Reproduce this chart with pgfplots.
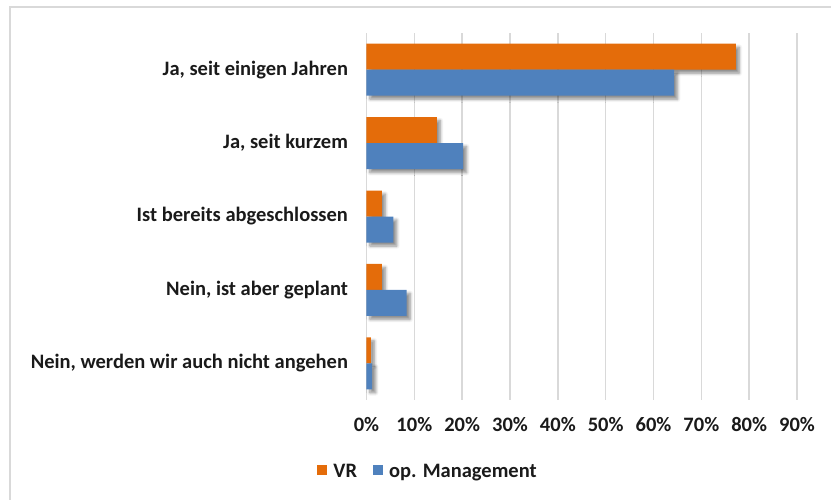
\documentclass[border=0pt]{standalone}
\usepackage{pgfplots}
\pgfplotsset{compat=1.18}
\usepackage{fontspec}
\setmainfont{Carlito}
\usetikzlibrary{shadows.blur}
\definecolor{vrorange}{HTML}{E46C0A}
\definecolor{opblue}{HTML}{4F81BD}
\definecolor{gridgray}{HTML}{D9D9D9}
\definecolor{txt}{HTML}{1A1A1A}
\begin{document}
\begin{tikzpicture}[x=1pt,y=1pt]
\useasboundingbox (0,0) rectangle (831,499);
\draw[gridgray, line width=1.5pt] (10,-20) -- (10,492) -- (900,492);
\begin{axis}[
  at={(366.5pt,99pt)}, anchor=south west,
  scale only axis, width=430.5pt, height=367pt,
  xbar=0pt, bar width=26pt,
  xmin=0, xmax=90, ymin=-0.5, ymax=4.5, y dir=reverse,
  xtick={0,10,...,90},
  xticklabels={0\%,10\%,20\%,30\%,40\%,50\%,60\%,70\%,80\%,90\%},
  ytick={0,1,2,3,4},
  yticklabels={Ja{,} seit einigen Jahren, Ja{,} seit kurzem, Ist bereits abgeschlossen, Nein{,} ist aber geplant, Nein{,} werden wir auch nicht angehen},
  major tick length=0pt,
  axis line style={draw=none},
  xmajorgrids, ymajorgrids=false,
  major grid style={draw=gridgray, line width=1.5pt},
  tick label style={font=\fontsize{20.5}{24}\selectfont\bfseries, text=txt},
  xticklabel style={yshift=-14pt},
  yticklabel style={xshift=-15pt, anchor=east},
  legend style={at={(0.143,-0.195)}, anchor=center, draw=none, fill=none,
    legend columns=2, font=\fontsize{20.5}{24}\selectfont\bfseries, text=txt,
    /tikz/every even column/.append style={column sep=14pt}},
]
\addplot[fill=vrorange, draw=none, bar shift=13pt, forget plot,
  blur shadow={shadow xshift=3.5pt, shadow yshift=-3.5pt, shadow blur steps=6, shadow opacity=45, shadow blur radius=3pt}]
  coordinates {(77.2,0) (14.7,1) (3.2,2) (3.2,3) (0.9,4)};
\addplot[fill=opblue, draw=none, bar shift=-13pt, forget plot,
  blur shadow={shadow xshift=3.5pt, shadow yshift=-3.5pt, shadow blur steps=6, shadow opacity=45, shadow blur radius=3pt}]
  coordinates {(64.3,0) (20.2,1) (5.6,2) (8.4,3) (1.2,4)};
\addlegendimage{legend image code/.code={\fill[vrorange, draw=none] (0pt,-3pt) rectangle (10pt,7pt); \path[draw=none, fill=none] (0pt,0pt) -- (14pt,0pt);}}
\addlegendentry{VR}
\addlegendimage{legend image code/.code={\fill[opblue, draw=none] (0pt,-3pt) rectangle (10pt,7pt); \path[draw=none, fill=none] (0pt,0pt) -- (14pt,0pt);}}
\addlegendentry{op. Management}
\end{axis}
\end{tikzpicture}
\end{document}
